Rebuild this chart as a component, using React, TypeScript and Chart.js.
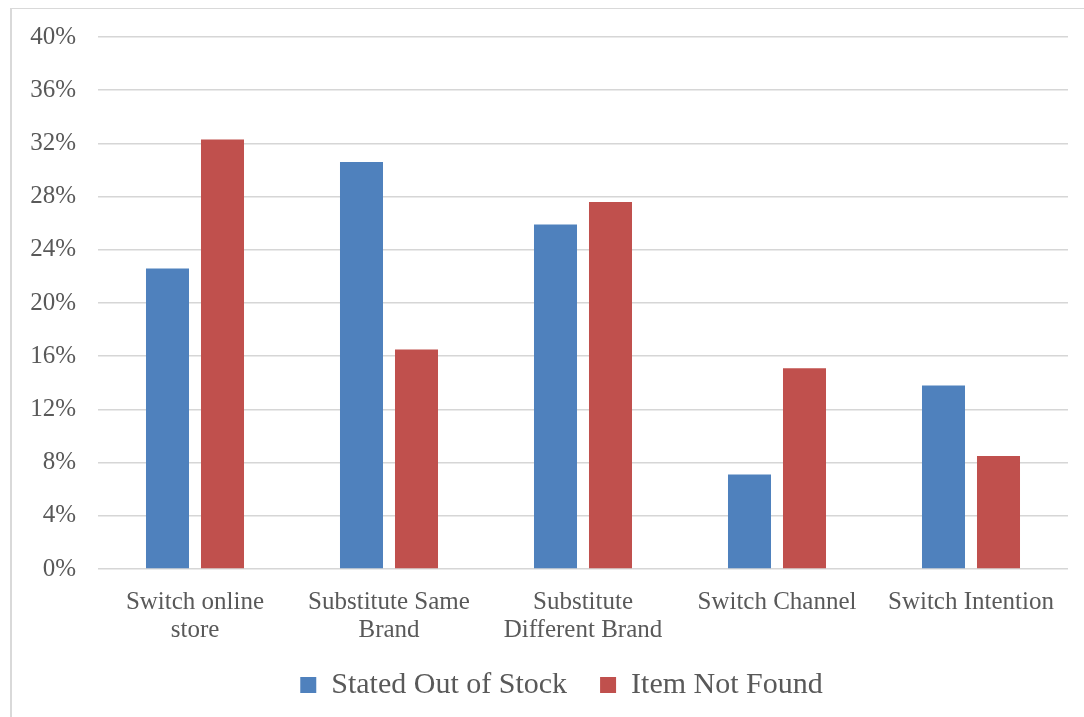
import React, { useEffect, useRef } from "react";
import { Chart, registerables } from "chart.js";

Chart.register(...registerables);

// Category labels, split into the lines they are shown on
const categories: string[][] = [
  ["Switch online", "store"],
  ["Substitute Same", "Brand"],
  ["Substitute", "Different Brand"],
  ["Switch Channel"],
  ["Switch Intention"],
];

const seriesNames = ["Stated Out of Stock", "Item Not Found"];

// Share of respondents (%)
const statedOutOfStock = [22.6, 30.6, 25.9, 7.1, 13.8];
const itemNotFound = [32.3, 16.5, 27.6, 15.1, 8.5];

const yMax = 40;
const yStep = 4;

const BLUE = "#4F81BD";
const RED = "#C0504D";
const TEXT = "#595959";
const GRID = "#d6d6d6";
const FONT = "'Liberation Serif', 'Times New Roman', serif";

// Centre the legend under the whole frame (not just the canvas edge)
// and tuck it up just below the two-line category labels.
const legendPlacement = {
  id: "legendPlacement",
  afterLayout(chart: any) {
    const legend = chart.legend;
    if (!legend) return;
    legend.left = 55;
    legend.top -= 7;
    legend.bottom -= 7;
  },
};

export default function App() {
  const canvasRef = useRef<HTMLCanvasElement | null>(null);

  useEffect(() => {
    const canvas = canvasRef.current;
    if (!canvas) return;
    const chart = new Chart(canvas, {
      type: "bar",
      data: {
        labels: categories,
        datasets: [
          {
            label: seriesNames[0],
            data: statedOutOfStock,
            backgroundColor: BLUE,
            categoryPercentage: 0.567,
            barPercentage: 0.782,
          },
          {
            label: seriesNames[1],
            data: itemNotFound,
            backgroundColor: RED,
            categoryPercentage: 0.567,
            barPercentage: 0.782,
          },
        ],
      },
      options: {
        responsive: false,
        animation: false,
        devicePixelRatio: 1,
        layout: {
          padding: { top: 37, right: 16, left: 0, bottom: 0 },
        },
        plugins: {
          tooltip: { enabled: false },
          legend: {
            position: "bottom",
            labels: {
              boxWidth: 16,
              boxHeight: 16,
              padding: 33,
              color: TEXT,
              font: { family: FONT, size: 30 },
            },
          },
        },
        scales: {
          x: {
            grid: { display: false },
            border: { display: false },
            ticks: {
              color: TEXT,
              font: { family: FONT, size: 25, lineHeight: 1.12 },
              padding: 11,
              autoSkip: false,
              maxRotation: 0,
              minRotation: 0,
            },
            afterFit: (scale: any) => {
              scale.height = 75;
            },
          },
          y: {
            min: 0,
            max: yMax,
            grid: { color: GRID, lineWidth: 1.5, drawTicks: false },
            border: { display: false },
            ticks: {
              stepSize: yStep,
              color: TEXT,
              padding: 22,
              font: { family: FONT, size: 25 },
              callback: (v: any) => `${v}%`,
            },
            afterFit: (scale: any) => {
              scale.width = 98;
            },
          },
        },
      },
      plugins: [legendPlacement],
    });
    return () => chart.destroy();
  }, []);

  return (
    <div
      style={{
        position: "fixed",
        left: 0,
        top: 0,
        width: 1084,
        height: 717,
        overflow: "hidden",
        background: "#ffffff",
      }}
    >
      <div
        style={{
          position: "absolute",
          left: 10,
          top: 8,
          width: 1200,
          height: 800,
          borderTop: "1px solid #d9d9d9",
          borderLeft: "2px solid #d9d9d9",
        }}
      />
      <canvas
        ref={canvasRef}
        width={1084}
        height={717}
        style={{ position: "absolute", left: 0, top: 0, width: 1084, height: 717 }}
      />
    </div>
  );
}
